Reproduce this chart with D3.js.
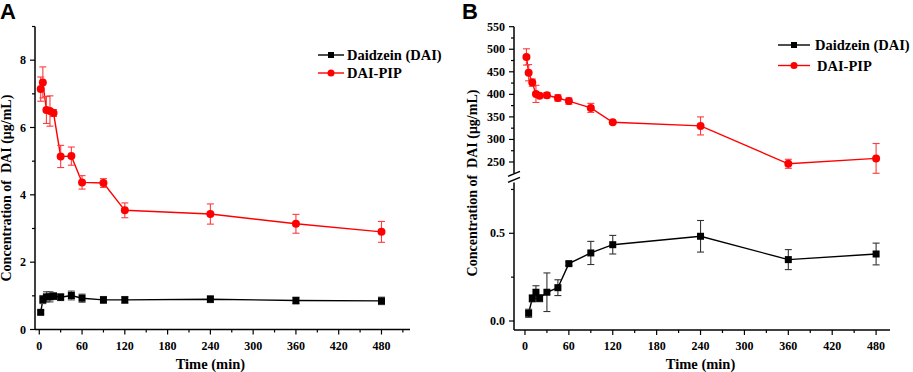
<!DOCTYPE html>
<html>
<head>
<meta charset="utf-8">
<script src="https://cdn.jsdelivr.net/npm/d3@7"></script>
<style>
    body { margin: 0; background: #fff; }
    svg text { font-family: "Liberation Serif", "DejaVu Serif", serif; font-weight: bold; fill: #000; white-space: pre; }
    svg text.panel-letter { font-family: "Liberation Sans", "DejaVu Sans", sans-serif; font-size: 22px; }
</style>
</head>
<body>
<svg id="chart" width="913" height="372"></svg>
<script>
// ---- data ----
const seriesNames = ["Daidzein (DAI)", "DAI-PIP"];

// panel A (µg/mL)
const timeA = [2, 5, 10, 15, 20, 30, 45, 60, 90, 120, 240, 360, 480];
const daiA = [0.51, 0.89, 0.97, 0.97, 0.99, 0.96, 1.01, 0.93, 0.88, 0.88, 0.90, 0.86, 0.85];
const daiErrA = [0.05, 0.12, 0.15, 0.15, 0.10, 0.10, 0.13, 0.12, 0.10, 0.10, 0.10, 0.10, 0.11];
const pipA = [7.14, 7.34, 6.52, 6.49, 6.43, 5.14, 5.15, 4.37, 4.35, 3.54, 3.43, 3.14, 2.90];
const pipErrA = [0.36, 0.46, 0.40, 0.45, 0.10, 0.33, 0.27, 0.20, 0.13, 0.22, 0.30, 0.28, 0.31];
const yTicksA = [0, 2, 4, 6, 8];
const xTicks = [0, 60, 120, 180, 240, 300, 360, 420, 480];

// panel B (broken y axis)
const timeDaiB = [5, 10, 15, 20, 30, 45, 60, 90, 120, 240, 360, 480];
const daiB = [0.044, 0.129, 0.164, 0.130, 0.164, 0.190, 0.327, 0.388, 0.435, 0.483, 0.350, 0.382];
const daiErrB = [0.023, 0.020, 0.037, 0.020, 0.110, 0.045, 0.010, 0.066, 0.053, 0.090, 0.057, 0.062];
const timePipB = [2, 5, 10, 15, 20, 30, 45, 60, 90, 120, 240, 360, 480];
const pipB = [483, 448, 426, 401, 397, 398, 392, 385, 370, 338, 330, 246, 258];
const pipErrB = [18, 18, 8, 19, 4, 6, 7, 7, 10, 3, 20, 10, 33];
const yTicksBUpper = [250, 300, 350, 400, 450, 500, 550];
const yTicksBLower = [0.0, 0.5];

const svg = d3.select("#chart");
const red = "#ff0000";
const redErr = "#ff3b3b";

function xAxis(g, x, y0, minorMax) {
    g.append("line")
        .attr("x1", x.range()[0]).attr("x2", x.range()[1])
        .attr("y1", y0).attr("y2", y0)
        .attr("stroke", "#000").attr("stroke-width", 1.5);
    const minor = d3.range(30, minorMax + 1, 60);
    g.selectAll(".xmin").data(minor).join("line")
        .attr("x1", d => x(d)).attr("x2", d => x(d))
        .attr("y1", y0).attr("y2", y0 + 3)
        .attr("stroke", "#000").attr("stroke-width", 1.2);
    g.selectAll(".xmaj").data(xTicks).join("line")
        .attr("x1", d => x(d)).attr("x2", d => x(d))
        .attr("y1", y0).attr("y2", y0 + 5)
        .attr("stroke", "#000").attr("stroke-width", 1.2);
    g.selectAll(".xlab").data(xTicks).join("text")
        .attr("x", d => x(d)).attr("y", y0 + 20)
        .attr("text-anchor", "middle").attr("font-size", 12)
        .text(d => d);
    g.append("text")
        .attr("x", (x(0) + x(480)) / 2).attr("y", y0 + 39)
        .attr("text-anchor", "middle").attr("font-size", 14.5)
        .text("Time (min)");
}

function yTicks(g, y, x0, ticks, minor, fmt) {
    g.selectAll(null).data(minor).join("line")
        .attr("x1", x0 - 3).attr("x2", x0)
        .attr("y1", d => y(d)).attr("y2", d => y(d))
        .attr("stroke", "#000").attr("stroke-width", 1.2);
    g.selectAll(null).data(ticks).join("line")
        .attr("x1", x0 - 5).attr("x2", x0)
        .attr("y1", d => y(d)).attr("y2", d => y(d))
        .attr("stroke", "#000").attr("stroke-width", 1.2);
    g.selectAll(null).data(ticks).join("text")
        .attr("x", x0 - 9).attr("y", d => y(d) + 4)
        .attr("text-anchor", "end").attr("font-size", 12)
        .text(fmt);
}

function drawSeries(g, x, y, times, vals, errs, color, errColor, marker, size) {
    const pts = times.map((t, i) => ({t: t, v: vals[i], e: errs[i]}));
    g.append("path")
        .datum(pts)
        .attr("fill", "none").attr("stroke", color).attr("stroke-width", 1.4)
        .attr("d", d3.line().x(d => x(d.t)).y(d => y(d.v)));
    const eb = g.append("g").attr("stroke", errColor).attr("stroke-width", 1.1);
    eb.selectAll(".v").data(pts).join("line")
        .attr("x1", d => x(d.t)).attr("x2", d => x(d.t))
        .attr("y1", d => y(d.v + d.e)).attr("y2", d => y(d.v - d.e));
    eb.selectAll(".top").data(pts).join("line")
        .attr("x1", d => x(d.t) - 3.5).attr("x2", d => x(d.t) + 3.5)
        .attr("y1", d => y(d.v + d.e)).attr("y2", d => y(d.v + d.e));
    eb.selectAll(".bot").data(pts).join("line")
        .attr("x1", d => x(d.t) - 3.5).attr("x2", d => x(d.t) + 3.5)
        .attr("y1", d => y(d.v - d.e)).attr("y2", d => y(d.v - d.e));
    if (marker === "circle") {
        g.selectAll(".m").data(pts).join("circle")
            .attr("cx", d => x(d.t)).attr("cy", d => y(d.v))
            .attr("r", size / 2).attr("fill", color);
    } else {
        g.selectAll(".m").data(pts).join("rect")
            .attr("x", d => x(d.t) - size / 2).attr("y", d => y(d.v) - size / 2)
            .attr("width", size).attr("height", size).attr("fill", color);
    }
}

function legend(g, lx, ly, gap, lineLen, textX, nudge) {
    const items = [
        {name: seriesNames[0], color: "#000", marker: "rect"},
        {name: seriesNames[1], color: red, marker: "circle"}
    ];
    items.forEach((it, i) => {
        const yy = ly + i * gap;
        g.append("line")
            .attr("x1", lx).attr("x2", lx + lineLen)
            .attr("y1", yy).attr("y2", yy)
            .attr("stroke", it.color).attr("stroke-width", 1.4);
        if (it.marker === "rect") {
            g.append("rect").attr("x", lx + lineLen / 2 - 3).attr("y", yy - 3)
                .attr("width", 6).attr("height", 6).attr("fill", it.color);
        } else {
            g.append("circle").attr("cx", lx + lineLen / 2).attr("cy", yy)
                .attr("r", 3.5).attr("fill", it.color);
        }
        g.append("text")
            .attr("x", textX + (i === 1 ? nudge : 0)).attr("y", yy + 5)
            .attr("font-size", 14.5)
            .text(it.name);
    });
}

// ---------- panel A ----------
const gA = svg.append("g");
const xA = d3.scaleLinear().domain([-6, 520]).range([35, 410]);
const yA = d3.scaleLinear().domain([0, 9]).range([329.5, 26.5]);

gA.append("line")
    .attr("x1", 35).attr("x2", 35).attr("y1", yA(9)).attr("y2", yA(0))
    .attr("stroke", "#000").attr("stroke-width", 1.5);
yTicks(gA, yA, 35, yTicksA, [1, 3, 5, 7, 9], d => d);
xAxis(gA, xA, yA(0), 510);

drawSeries(gA, xA, yA, timeA, daiA, daiErrA, "#000", "#444", "rect", 7);
drawSeries(gA, xA, yA, timeA, pipA, pipErrA, red, redErr, "circle", 8);
legend(gA, 318, 55, 18, 26, 347, 0);

gA.append("text")
    .attr("transform", `translate(11,${yA(4.2)}) rotate(-90)`)
    .attr("text-anchor", "middle").attr("font-size", 14)
    .text("Concentration of  DAI (μg/mL)");
gA.append("text").attr("class", "panel-letter").attr("x", 0).attr("y", 19).text("A");

// ---------- panel B ----------
const gB = svg.append("g");
const xB = d3.scaleLinear().domain([-15, 499]).range([514, 890]);
const yBu = d3.scaleLinear().domain([250, 550]).range([162, 26.7]);
const yBl = d3.scaleLinear().domain([0, 0.5]).range([321, 233.3]);
const yBottom = 330;

gB.append("line")
    .attr("x1", 514).attr("x2", 514).attr("y1", yBu(550)).attr("y2", yBu(225))
    .attr("stroke", "#000").attr("stroke-width", 1.5);
gB.append("line")
    .attr("x1", 514).attr("x2", 514).attr("y1", yBl(0.79)).attr("y2", yBottom)
    .attr("stroke", "#000").attr("stroke-width", 1.5);
// axis break marks
[0, 6].forEach(off => {
    gB.append("line")
        .attr("x1", 508).attr("x2", 520)
        .attr("y1", yBu(225) + 3 + off).attr("y2", yBu(225) - 2 + off)
        .attr("stroke", "#000").attr("stroke-width", 1.3);
});
yTicks(gB, yBu, 514, yTicksBUpper, [275, 325, 375, 425, 475, 525], d => d);
yTicks(gB, yBl, 514, yTicksBLower, [0.25, 0.75], d => d3.format(".1f")(d));
xAxis(gB, xB, yBottom, 480);

drawSeries(gB, xB, yBl, timeDaiB, daiB, daiErrB, "#000", "#333", "rect", 7);
drawSeries(gB, xB, yBu, timePipB, pipB, pipErrB, red, redErr, "circle", 8);
legend(gB, 778, 45, 20.5, 32, 815, 2);

gB.append("text")
    .attr("transform", "translate(477,183) rotate(-90)")
    .attr("text-anchor", "middle").attr("font-size", 14)
    .text("Concentration of  DAI (μg/mL)");
gB.append("text").attr("class", "panel-letter").attr("x", 462).attr("y", 19).text("B");
</script>
</body>
</html>
